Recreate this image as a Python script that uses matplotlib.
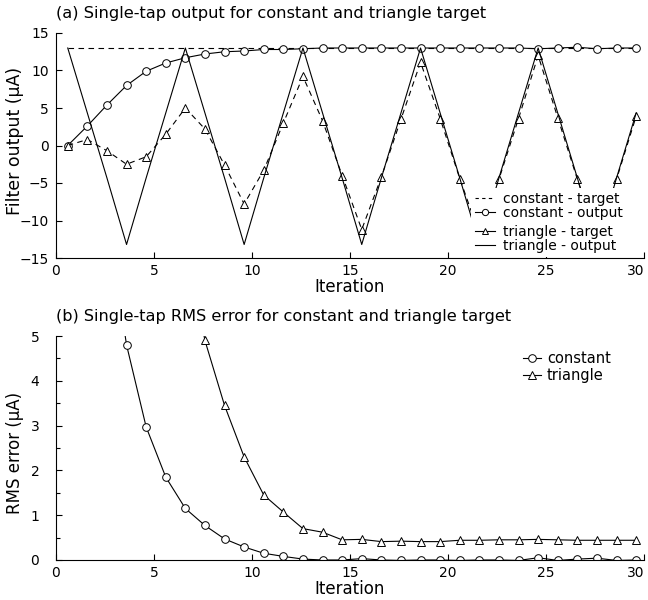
import matplotlib
matplotlib.use('Agg')
import matplotlib.pyplot as plt
from matplotlib.lines import Line2D
from matplotlib.ticker import MultipleLocator

plt.rcParams['font.family'] = ['DejaVu Sans']

# ----------------------------------------------------------------------------
# Data
# ----------------------------------------------------------------------------
iterations = [0.6, 1.6, 2.6, 3.6, 4.6, 5.6, 6.6, 7.6, 8.6, 9.6,
              10.6, 11.6, 12.6, 13.6, 14.6, 15.6, 16.6, 17.6, 18.6, 19.6,
              20.6, 21.6, 22.6, 23.6, 24.6, 25.6, 26.6, 27.6, 28.6, 29.6]

constant_target = [13.0] * 30
constant_output = [0.0, 2.6, 5.4, 8.0, 9.9, 11.0, 11.7, 12.2, 12.5, 12.6,
                   12.8, 12.8, 12.9, 13.0, 13.0, 13.0, 13.0, 13.0, 13.0, 13.0,
                   13.0, 13.0, 13.0, 13.0, 12.9, 13.0, 13.1, 12.9, 13.0, 13.0]

triangle_wave = [13.0, 4.33, -4.33, -13.2, -4.33, 4.33, 13.0, 4.33, -4.33, -13.2,
                 -4.33, 4.33, 13.0, 4.33, -4.33, -13.2, -4.33, 4.33, 13.0, 4.33,
                 -4.33, -13.2, -4.33, 4.33, 13.0, 4.33, -4.33, -13.2, -4.33, 4.33]
triangle_track = [0.0, 0.8, -0.7, -2.5, -1.5, 1.5, 5.0, 2.2, -2.6, -7.8,
                  -3.3, 3.0, 9.2, 3.3, -4.0, -11.2, -4.2, 3.5, 11.1, 3.6,
                  -4.4, -11.8, -4.5, 3.6, 12.0, 3.7, -4.5, -12.0, -4.5, 3.9]

rms_constant = [13.0, 12.4, 7.7, 4.8, 2.97, 1.85, 1.15, 0.77, 0.47, 0.29,
                0.15, 0.08, 0.02, 0.0, 0.0, 0.03, 0.0, -0.01, 0.0, 0.0,
                -0.01, 0.0, 0.0, -0.01, 0.05, -0.01, 0.02, 0.04, -0.01, 0.0]
rms_triangle = [None, None, None, None, None, 10.5, 7.2, 4.9, 3.45, 2.3,
                1.45, 1.07, 0.7, 0.62, 0.45, 0.46, 0.41, 0.42, 0.41, 0.41,
                0.44, 0.44, 0.45, 0.45, 0.46, 0.45, 0.44, 0.44, 0.44, 0.44]

x_ticks = [0, 5, 10, 15, 20, 25, 30]

LW = 0.8
MS = 5.5


def style_axes(ax, ypad):
    ax.spines['top'].set_visible(False)
    ax.spines['right'].set_visible(False)
    ax.spines['left'].set_linewidth(0.8)
    ax.spines['bottom'].set_linewidth(0.8)
    ax.tick_params(direction='in', length=4, width=0.8, labelsize=10)
    ax.tick_params(which='minor', direction='in', length=3, width=0.8)
    ax.tick_params(axis='x', pad=4)
    ax.tick_params(axis='y', pad=ypad)
    ax.set_xlim(0, 30)
    ax.set_xticks(x_ticks)
    # keep the "30" label inside the canvas
    ax.get_xticklabels()[-1].set_horizontalalignment('right')


fig = plt.figure(figsize=(6.48, 6.0), dpi=100)

# ----------------------------------------------------------------------------
# (a) filter output
# ----------------------------------------------------------------------------
ax1 = fig.add_axes([0.0864, 0.57, 0.9074, 0.375])
style_axes(ax1, ypad=5)

ax1.plot(iterations, constant_target, color='black', lw=LW, ls=(0, (5, 4)))
ax1.plot(iterations, constant_output, color='black', lw=LW, marker='o',
         ms=MS, mfc='white', mec='black', mew=0.7)
ax1.plot(iterations, triangle_track, color='black', lw=LW, ls=(0, (5, 4)),
         marker='^', ms=MS, mfc='white', mec='black', mew=0.7)
ax1.plot(iterations, triangle_wave, color='black', lw=LW)

ax1.set_ylim(-15, 15)
ax1.yaxis.set_major_locator(MultipleLocator(5))
ax1.set_xlabel('Iteration', fontsize=12, labelpad=0)
ax1.set_ylabel('Filter output (μA)', fontsize=12.5)
ax1.yaxis.set_label_coords(-0.055, 0.52)
ax1.set_title('(a) Single-tap output for constant and triangle target',
              loc='left', fontsize=11.7, pad=11)

h1 = [Line2D([], [], color='black', lw=LW, ls=(0, (3, 3))),
      Line2D([], [], color='black', lw=LW, marker='o', ms=MS - 1,
             mfc='white', mec='black', mew=0.7)]
h2 = [Line2D([], [], color='black', lw=LW, marker='^', ms=MS - 1,
             mfc='white', mec='black', mew=0.7),
      Line2D([], [], color='black', lw=LW)]
leg_kw = dict(loc='upper left', fontsize=10, frameon=True, framealpha=1,
              edgecolor='none', fancybox=False, borderpad=0.3,
              borderaxespad=0, handlelength=1.4, handletextpad=0.6,
              labelspacing=0.0)
leg1 = ax1.legend(h1, ['constant - target', 'constant - output'],
                  bbox_to_anchor=(0.706, 0.311), **leg_kw)
ax1.add_artist(leg1)
ax1.legend(h2, ['triangle - target', 'triangle - output'],
           bbox_to_anchor=(0.706, 0.165), **leg_kw)

# ----------------------------------------------------------------------------
# (b) RMS error
# ----------------------------------------------------------------------------
ax2 = fig.add_axes([0.0864, 0.0667, 0.9074, 0.3733])
style_axes(ax2, ypad=12)

ax2.plot(iterations, rms_constant, color='black', lw=LW, marker='o',
         ms=MS, mfc='white', mec='black', mew=0.7, label='constant')
ax2.plot(iterations, rms_triangle, color='black', lw=LW, marker='^',
         ms=MS, mfc='white', mec='black', mew=0.7, label='triangle')

ax2.set_ylim(0, 5)
ax2.yaxis.set_major_locator(MultipleLocator(1))
ax2.yaxis.set_minor_locator(MultipleLocator(0.5))
ax2.set_xlabel('Iteration', fontsize=12, labelpad=0)
ax2.set_ylabel('RMS error (μA)', fontsize=12)
ax2.yaxis.set_label_coords(-0.055, 0.48)
ax2.set_title('(b) Single-tap RMS error for constant and triangle target',
              loc='left', fontsize=11.6, pad=11)
ax2.legend(loc='upper left', bbox_to_anchor=(0.79, 0.945), fontsize=10.5,
           frameon=False, borderpad=0.2, borderaxespad=0,
           handlelength=1.2, handletextpad=0.4, labelspacing=0.1)

fig.savefig('out.png', dpi=100)
plt.close(fig)
